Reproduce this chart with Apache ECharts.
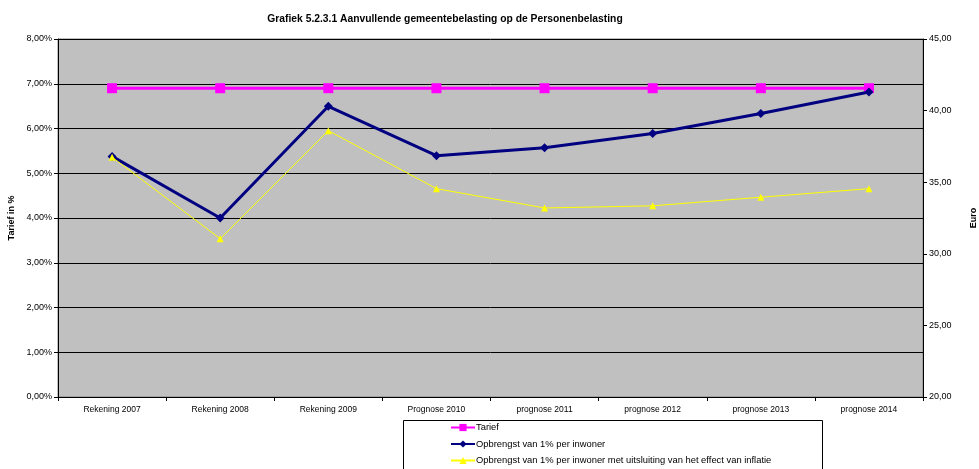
<!DOCTYPE html>
<html>
<head>
<meta charset="utf-8">
<script src="https://cdn.jsdelivr.net/npm/echarts@6/dist/echarts.min.js"></script>
<style>
  html, body { margin: 0; padding: 0; background: #fff; }
  #main { width: 979px; height: 469px; }
</style>
</head>
<body>
<div id="main"></div>
<script>
// categorieen (jaren)
const categories = ['Rekening 2007', 'Rekening 2008', 'Rekening 2009', 'Prognose 2010',
  'prognose 2011', 'prognose 2012', 'prognose 2013', 'prognose 2014'];
// tarief in %
const tarief = [6.9, 6.9, 6.9, 6.9, 6.9, 6.9, 6.9, 6.9];
// opbrengst per inwoner in euro
const opbrengst = [36.8, 32.5, 40.3, 36.85, 37.4, 38.4, 39.8, 41.3];
// zonder inflatie-effect
const opbrengstReeel = [36.75, 31.05, 38.6, 34.55, 33.2, 33.35, 33.95, 34.55];

const FONT = 'Liberation Sans, Arial, sans-serif';
const pct = v => v.toFixed(2).replace('.', ',') + '%';
const eur = v => v.toFixed(2).replace('.', ',');

const myChart = echarts.init(document.getElementById('main'));
const option = {
  animation: false,
  textStyle: { fontFamily: FONT },
  title: {
    text: 'Grafiek 5.2.3.1 Aanvullende gemeentebelasting op de Personenbelasting',
    left: 440,
    textAlign: 'center',
    top: 9,
    textStyle: { fontSize: 10.3, fontWeight: 'bold', color: '#000', fontFamily: FONT },
  },
  grid: {
    left: 58, right: 56, top: 39, bottom: 72,
    outerBoundsMode: 'none',
    containLabel: false,
    show: true,
    backgroundColor: '#C0C0C0',
    borderColor: '#808080',
    borderWidth: 1,
  },
  // rand om de legenda
  graphic: [{
    type: 'rect',
    left: 403, top: 420,
    shape: { width: 419, height: 60 },
    style: { fill: '#fff', stroke: '#000', lineWidth: 1 },
    z: -1,
  }],
  legend: {
    orient: 'vertical',
    left: 450, top: 423,
    itemWidth: 24, itemHeight: 9, itemGap: 7.5,
    padding: 0,
    textStyle: { fontSize: 9.4, color: '#000', fontFamily: FONT, padding: [0, 0, 0, -4] },
    data: ['Tarief', 'Opbrengst van 1% per inwoner',
      'Opbrengst van 1% per inwoner met uitsluiting van het effect van inflatie'],
  },
  xAxis: {
    type: 'category',
    data: categories,
    boundaryGap: true,
    axisLine: { lineStyle: { color: '#000' } },
    axisTick: { show: true, length: 4, lineStyle: { color: '#000' } },
    axisLabel: { fontSize: 8.5, color: '#000', margin: 8, interval: 0 },
  },
  yAxis: [{
    type: 'value',
    min: 0, max: 8, interval: 1,
    name: 'Tarief in %',
    nameLocation: 'middle',
    nameGap: 37,
    nameTextStyle: { fontSize: 9, fontWeight: 'bold', color: '#000' },
    axisLine: { show: true, lineStyle: { color: '#000' } },
    axisTick: { show: true, length: 4, lineStyle: { color: '#000' } },
    axisLabel: { fontSize: 9, color: '#000', formatter: pct, margin: 6 },
    splitLine: { show: true, lineStyle: { color: '#000', width: 1 } },
  }, {
    type: 'value',
    min: 20, max: 45, interval: 5,
    position: 'right',
    name: 'Euro',
    nameLocation: 'middle',
    nameGap: 46,
    nameTextStyle: { fontSize: 9, fontWeight: 'bold', color: '#000' },
    axisLine: { show: true, lineStyle: { color: '#000' } },
    axisTick: { show: true, length: 4, lineStyle: { color: '#000' } },
    axisLabel: { fontSize: 9, color: '#000', formatter: eur, margin: 6 },
    splitLine: { show: false },
  }],
  series: [{
    name: 'Tarief',
    type: 'line',
    yAxisIndex: 0,
    data: tarief,
    symbol: 'rect',
    symbolSize: 10,
    color: '#FF00FF',
    lineStyle: { width: 3, color: '#FF00FF' },
    itemStyle: { color: '#FF00FF' },
    z: 3,
  }, {
    name: 'Opbrengst van 1% per inwoner',
    type: 'line',
    yAxisIndex: 1,
    data: opbrengst,
    symbol: 'diamond',
    symbolSize: 9,
    color: '#000080',
    lineStyle: { width: 3, color: '#000080' },
    itemStyle: { color: '#000080' },
    z: 4,
  }, {
    name: 'Opbrengst van 1% per inwoner met uitsluiting van het effect van inflatie',
    type: 'line',
    yAxisIndex: 1,
    data: opbrengstReeel,
    symbol: 'triangle',
    symbolSize: 7,
    color: '#FFFF00',
    lineStyle: { width: 1, color: '#FFFF00' },
    itemStyle: { color: '#FFFF00' },
    z: 5,
  }],
};
myChart.setOption(option);
</script>
</body>
</html>
